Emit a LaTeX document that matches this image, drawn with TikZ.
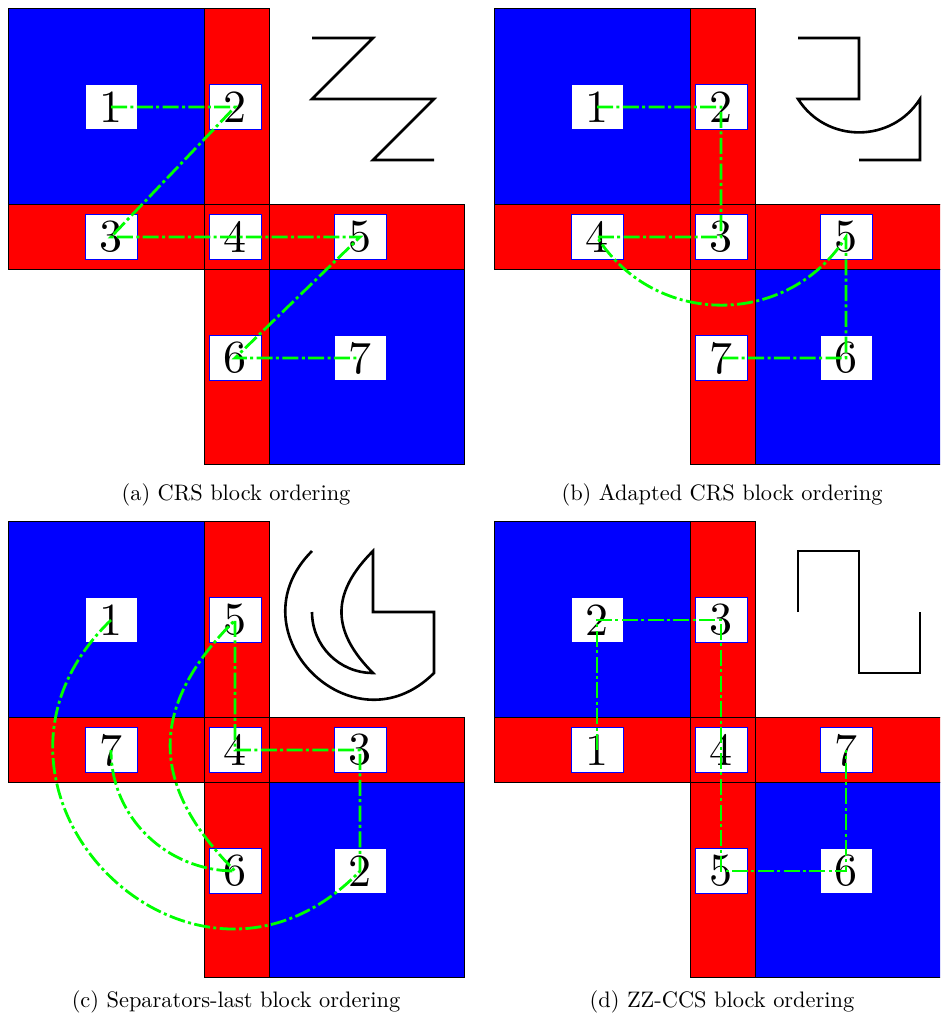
\documentclass[tikz,border=0pt]{standalone}
\usepackage{graphicx}
\tikzset{
  blk/.style={draw=black, line width=0.9pt},
  lbl/.style={fill=white, draw=blue, line width=0.8pt, minimum width=52pt, minimum height=45pt, inner sep=0pt},
  conn/.style={draw=green, line width=2.8pt, dash pattern=on 16pt off 3.4pt on 3pt off 3.4pt},
  glyph/.style={draw=black, line width=2.6pt},
  captext/.style={anchor=base, inner sep=0pt}
}
\newcommand\blocks{%
  \filldraw[blk, fill=blue] (0,0) rectangle (196,-196);
  \filldraw[blk, fill=red] (196,0) rectangle (261,-196);
  \filldraw[blk, fill=red] (0,-196) rectangle (456,-261);
  \filldraw[blk, fill=red] (196,-261) rectangle (261,-456);
  \filldraw[blk, fill=blue] (261,-261) rectangle (456,-456);
  \draw[blk] (196,-196) rectangle (261,-261);
}
\newcommand\lab[3]{\node[lbl] (#1) at (#2) {\scalebox{4.6}{\normalsize #3}};}
\newcommand\capt[1]{\scalebox{2.24}{\normalsize #1}}
\begin{document}
\begin{tikzpicture}[x=1pt,y=1pt]
\path[use as bounding box] (0,0) rectangle (940,-1019);
\clip (0,0) rectangle (940,-1019);

% ---------- (a) ----------
\begin{scope}[shift={(8,-8)}]
  \blocks
  \lab{a1}{103,-99}{1}
  \lab{a2}{227,-99}{2}
  \lab{a3}{103,-229}{3}
  \lab{a4}{227,-229}{4}
  \lab{a5}{352,-229}{5}
  \lab{a6}{227,-350}{6}
  \lab{a7}{352,-350}{7}
  \draw[conn] (a1.center) -- (a2.center) -- (a3.center) -- (a4.center)
     -- (a5.center) -- (a6.center) -- (a7.center);
  \draw[glyph] (304,-30) -- (365,-30) -- (304,-91) -- (426,-91) -- (365,-152) -- (426,-152);
\end{scope}

% ---------- (b) ----------
\begin{scope}[shift={(494,-8)}]
  \blocks
  \lab{b1}{103,-99}{1}
  \lab{b2}{227,-99}{2}
  \lab{b3}{227,-229}{3}
  \lab{b4}{103,-229}{4}
  \lab{b5}{352,-229}{5}
  \lab{b6}{352,-350}{6}
  \lab{b7}{227,-350}{7}
  \draw[conn] (b1.center) -- (b2.center) -- (b3.center) -- (b4.center)
     to[out=-57.5,in=-122.5,looseness=1.11] (b5.center) -- (b6.center) -- (b7.center);
  \draw[glyph] (304,-30) -- (365,-30) -- (365,-91) -- (304,-91)
     to[out=-57.5,in=-122.5,looseness=1.11] (426,-91) -- (426,-152) -- (365,-152);
\end{scope}

% ---------- (c) ----------
\begin{scope}[shift={(8,-521)}]
  \blocks
  \lab{c1}{103,-99}{1}
  \lab{c5}{227,-99}{5}
  \lab{c7}{103,-229}{7}
  \lab{c4}{227,-229}{4}
  \lab{c3}{352,-229}{3}
  \lab{c6}{227,-350}{6}
  \lab{c2}{352,-350}{2}
  \draw[conn] (c1.center) to[out=224,in=226,looseness=1.75] (c2.center)
     -- (c3.center) -- (c4.center) -- (c5.center)
     to[out=225,in=135,looseness=1.25] (c6.center)
     to[out=180,in=270] (c7.center);
  \draw[glyph] (304,-30) to[out=225,in=225,looseness=1.70] (426,-152)
     -- (426,-91) -- (365,-91) -- (365,-30)
     to[out=225,in=135,looseness=1.25] (365,-152)
     to[out=180,in=270] (304,-91);
\end{scope}

% ---------- (d) ----------
\begin{scope}[shift={(494,-521)}]
  \blocks
  \lab{d2}{103,-99}{2}
  \lab{d3}{227,-99}{3}
  \lab{d1}{103,-229}{1}
  \lab{d4}{227,-229}{4}
  \lab{d7}{352,-229}{7}
  \lab{d5}{227,-350}{5}
  \lab{d6}{352,-350}{6}
  \draw[conn] (d1.center) -- (d2.center) -- (d3.center) -- (d4.center)
     -- (d5.center) -- (d6.center) -- (d7.center);
  \draw[glyph] (304,-91) -- (304,-30) -- (365,-30) -- (365,-152) -- (426,-152) -- (426,-91);
\end{scope}

% ---------- captions ----------
\node[captext] (capa) at (236,-500) {\capt{(a)\ CRS block ordering}};
\node[captext] (capb) at (722,-500) {\capt{(b)\ Adapted CRS block ordering}};
\node[captext] (capc) at (236,-1007) {\capt{(c)\ Separators-last block ordering}};
\node[captext] (capd) at (722,-1007) {\capt{(d)\ ZZ-CCS block ordering}};
\end{tikzpicture}
\end{document}
